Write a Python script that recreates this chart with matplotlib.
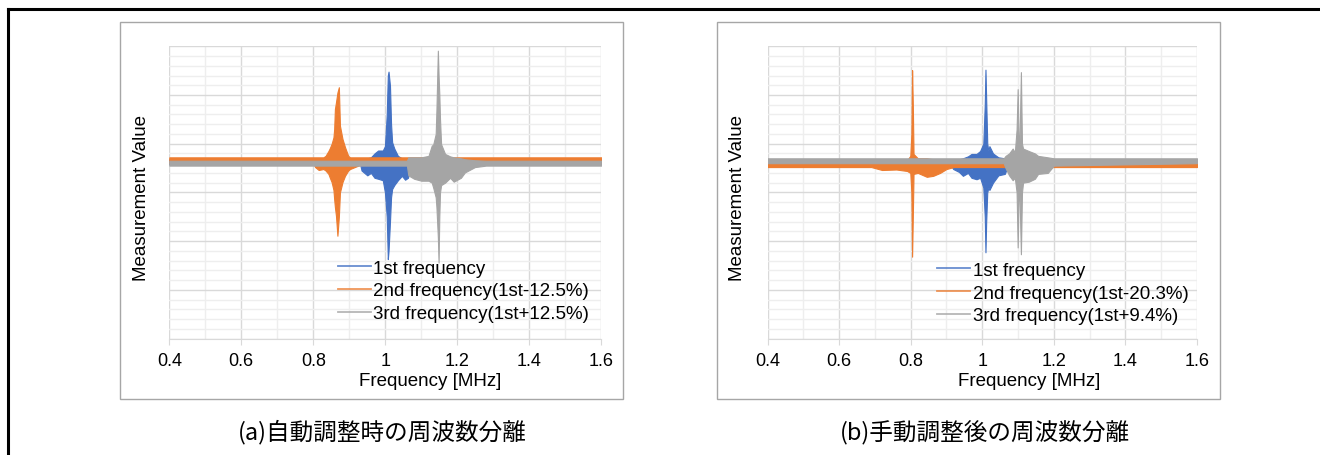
import numpy as np
import matplotlib
matplotlib.use('Agg')
import matplotlib.pyplot as plt
from matplotlib.patches import Rectangle
from matplotlib.lines import Line2D
from matplotlib.ticker import MultipleLocator

plt.rcParams['font.family'] = ['Liberation Sans', 'Noto Sans CJK JP', 'DejaVu Sans']

# colours of the three series (Excel default palette)
C_BLUE = '#4472C4'
C_ORANGE = '#ED7D31'
C_GRAY = '#A5A5A5'

###### panel (a): automatic tuning, envelope of each trace (freq MHz, lower, upper) ######
a1_f  = [0.40, 0.93, 0.934, 0.95, 0.96, 0.97, 0.98, 0.993, 0.999, 1.004, 1.007, 1.009, 1.013, 1.016, 1.019, 1.025, 1.035, 1.046, 1.055, 1.063, 1.069, 1.08, 1.60]
a1_lo = [0.58, 0.58, 0.45, 0.35, 0.40, 0.30, 0.28, 0.25, 0.00, -0.50, -1.37, -1.20, -0.60, -0.10, 0.07, 0.15, 0.25, 0.34, 0.26, 0.30, 0.50, 0.58, 0.58]
a1_hi = [0.68, 0.68, 0.68, 0.70, 0.72, 0.80, 0.86, 0.86, 0.95, 1.60, 2.40, 2.48, 2.19, 1.40, 1.03, 0.90, 0.75, 0.70, 0.68, 0.68, 0.68, 0.68, 0.68]

a2_f  = [0.40, 0.80, 0.805, 0.815, 0.828, 0.834, 0.842, 0.846, 0.851, 0.856, 0.858, 0.860, 0.863, 0.867, 0.871, 0.874, 0.881, 0.888, 0.897, 0.902, 0.925, 0.95, 1.60]
a2_lo = [0.60, 0.60, 0.52, 0.46, 0.48, 0.45, 0.38, 0.30, 0.21, 0.05, -0.14, -0.30, -0.48, -0.89, -0.50, 0.00, 0.21, 0.34, 0.45, 0.48, 0.55, 0.60, 0.60]
a2_hi = [0.72, 0.72, 0.72, 0.72, 0.72, 0.75, 0.85, 0.91, 1.00, 1.13, 1.30, 1.71, 1.85, 2.05, 2.16, 1.37, 1.10, 0.93, 0.75, 0.72, 0.72, 0.72, 0.72]

a3_f  = [0.40, 1.06, 1.064, 1.08, 1.10, 1.12, 1.129, 1.133, 1.140, 1.142, 1.146, 1.148, 1.150, 1.152, 1.155, 1.166, 1.18, 1.19, 1.21, 1.221, 1.249, 1.28, 1.60]
a3_lo = [0.55, 0.55, 0.35, 0.28, 0.24, 0.24, 0.20, 0.10, -0.10, -0.30, -0.92, -1.44, -0.50, 0.00, 0.15, 0.20, 0.30, 0.22, 0.30, 0.41, 0.52, 0.55, 0.55]
a3_hi = [0.65, 0.65, 0.72, 0.72, 0.72, 0.75, 0.96, 0.98, 1.20, 1.68, 2.91, 2.40, 2.02, 1.50, 0.99, 0.79, 0.74, 0.72, 0.70, 0.68, 0.66, 0.65, 0.65]

###### panel (b): manual tuning ######
b1_f  = [0.40, 0.91, 0.919, 0.935, 0.946, 0.96, 0.97, 0.984, 0.994, 1.003, 1.007, 1.009, 1.011, 1.014, 1.017, 1.020, 1.03, 1.045, 1.063, 1.072, 1.60]
b1_lo = [0.58, 0.58, 0.48, 0.42, 0.34, 0.40, 0.30, 0.27, 0.30, 0.10, -0.50, -1.23, -0.60, 0.00, 0.10, 0.05, 0.20, 0.35, 0.38, 0.55, 0.58]
b1_hi = [0.68, 0.68, 0.68, 0.68, 0.70, 0.74, 0.79, 0.79, 0.85, 1.00, 1.80, 2.52, 1.90, 1.00, 0.86, 0.95, 0.80, 0.72, 0.70, 0.68, 0.68]

b2_f  = [0.40, 0.69, 0.72, 0.76, 0.79, 0.799, 0.802, 0.804, 0.806, 0.808, 0.82, 0.845, 0.863, 0.882, 0.90, 0.92, 1.60]
b2_lo = [0.52, 0.52, 0.46, 0.47, 0.44, 0.40, 0.00, -1.32, -0.50, 0.38, 0.40, 0.32, 0.34, 0.40, 0.48, 0.52, 0.52]
b2_hi = [0.62, 0.62, 0.64, 0.65, 0.66, 0.75, 1.20, 2.51, 1.80, 0.79, 0.70, 0.70, 0.68, 0.66, 0.64, 0.62, 0.62]

b3_f  = [0.40, 1.06, 1.065, 1.075, 1.085, 1.091, 1.096, 1.099, 1.102, 1.104, 1.108, 1.111, 1.114, 1.13, 1.147, 1.156, 1.183, 1.20, 1.60]
b3_lo = [0.60, 0.60, 0.50, 0.35, 0.25, 0.30, 0.00, -1.13, 0.10, 0.00, -1.27, 0.00, 0.20, 0.22, 0.28, 0.38, 0.40, 0.55, 0.60]
b3_hi = [0.70, 0.70, 0.75, 0.80, 0.90, 0.82, 1.30, 2.12, 0.90, 1.00, 2.47, 1.00, 0.90, 0.85, 0.80, 0.75, 0.72, 0.70, 0.70]

labels_a = ['1st frequency', '2nd frequency(1st-12.5%)', '3rd frequency(1st+12.5%)']
labels_b = ['1st frequency', '2nd frequency(1st-20.3%)', '3rd frequency(1st+9.4%)']
captions = ['(a)自動調整時の周波数分離', '(b)手動調整後の周波数分離']
xticks = [0.4, 0.6, 0.8, 1.0, 1.2, 1.4, 1.6]
xticklabels = ['0.4', '0.6', '0.8', '1', '1.2', '1.4', '1.6']

W, H = 1320, 456
fig = plt.figure(figsize=(W / 100, H / 100), dpi=100)


def px_rect(x0, y0, x1, y1):
    # pixel box (top-left origin) -> figure fraction [l, b, w, h]
    return [x0 / W, 1 - y1 / H, (x1 - x0) / W, (y1 - y0) / H]


# outer black frame (top and left only)
fig.add_artist(Line2D([8 / W, 1], [1 - 10 / H, 1 - 10 / H], color='black', lw=2.2, transform=fig.transFigure))
fig.add_artist(Line2D([8 / W, 8 / W], [0, 1 - 10 / H], color='black', lw=2.2, transform=fig.transFigure))

panels = [
    dict(box=(120, 23, 623, 400), ax=(169.3, 47.3, 601.3, 339.5), cap=(382.8, 431.7),
         series=[(a1_f, a1_lo, a1_hi), (a2_f, a2_lo, a2_hi), (a3_f, a3_lo, a3_hi)],
         labels=labels_a, leg=(0.3896, 0.270), xlab=0.605, ylab=-0.0655),
    dict(box=(717, 23, 1220, 400), ax=(767.5, 47.3, 1197, 339.5), cap=(985, 433),
         series=[(b1_f, b1_lo, b1_hi), (b2_f, b2_lo, b2_hi), (b3_f, b3_lo, b3_hi)],
         labels=labels_b, leg=(0.3946, 0.2625), xlab=0.609, ylab=-0.0687),
]
colors = [C_BLUE, C_ORANGE, C_GRAY]

for i, p in enumerate(panels):
    # light gray chart border
    l, b, w, h = px_rect(*p['box'])
    fig.add_artist(Rectangle((l, b), w, h, transform=fig.transFigure, fill=False,
                             edgecolor='#a6a6a6', lw=1.0))

    ax = fig.add_axes(px_rect(*p['ax']))
    for (f, lo, hi), col in zip(p['series'], colors):
        ax.fill_between(f, lo, hi, color=col, lw=0.8, zorder=3)

    ax.set_xlim(0.4, 1.6)
    ax.set_ylim(-3, 3)
    ax.set_xticks(xticks)
    ax.set_xticklabels(xticklabels)
    ax.xaxis.set_minor_locator(MultipleLocator(0.1))
    ax.yaxis.set_major_locator(MultipleLocator(1))
    ax.yaxis.set_minor_locator(MultipleLocator(0.2))
    ax.grid(which='major', color='#d9d9d9', lw=1.0, zorder=0)
    ax.grid(which='minor', color='#eeeeee', lw=1.0, zorder=0)
    ax.set_axisbelow(True)
    for s in ['top', 'right', 'left']:
        ax.spines[s].set_visible(False)
    ax.spines['bottom'].set_color('#d9d9d9')
    ax.tick_params(axis='x', which='major', length=4.5, color='#d9d9d9', labelsize=13, pad=5.5)
    ax.tick_params(axis='x', which='minor', length=0)
    ax.tick_params(axis='y', which='both', length=0, labelleft=False)

    ax.set_xlabel('Frequency [MHz]', fontsize=13.5, va='center')
    ax.xaxis.set_label_coords(p['xlab'], -0.144)
    ax.set_ylabel('Measurement Value', fontsize=13.5, va='center')
    ax.yaxis.set_label_coords(p['ylab'], 0.483)

    handles = [Line2D([], [], color=c, lw=1.3, alpha=0.8) for c in colors]
    ax.legend(handles, p['labels'], loc='upper left', bbox_to_anchor=p['leg'], frameon=False,
              fontsize=13.5, handlelength=1.76, handletextpad=0.15, labelspacing=0.3,
              borderpad=0, borderaxespad=0)

    fig.text(p['cap'][0] / W, 1 - p['cap'][1] / H, captions[i], fontsize=17,
             ha='center', va='center', family=['Noto Sans CJK JP', 'DejaVu Sans'])

fig.savefig('out.png', dpi=100)
